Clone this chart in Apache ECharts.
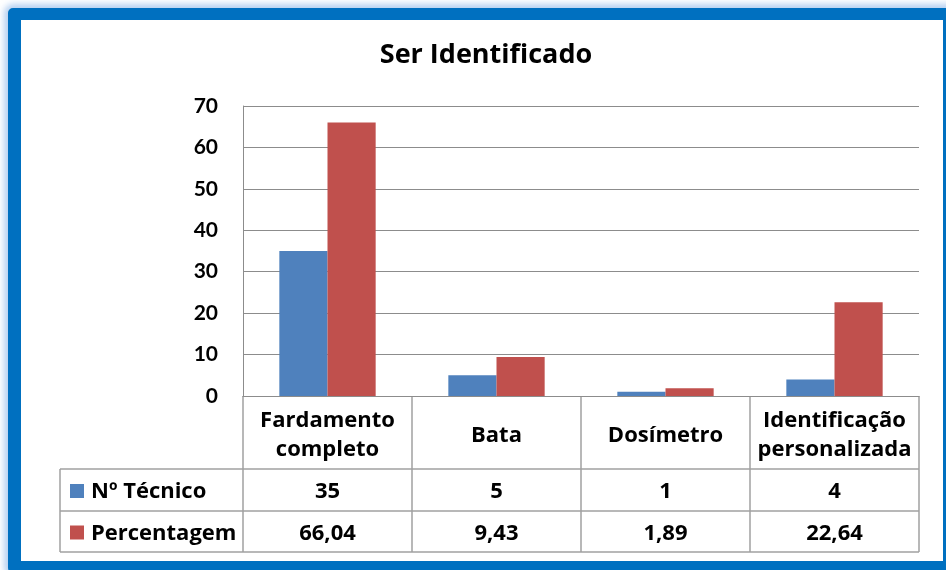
<!DOCTYPE html>
<html>
<head>
<meta charset="utf-8">
<script src="https://cdn.jsdelivr.net/npm/echarts@6/dist/echarts.min.js"></script>
<style>
    html, body { margin: 0; padding: 0; width: 946px; height: 570px; overflow: hidden; background: #fff; }
    .frame {
        position: absolute; left: 8px; top: 8px;
        width: 922px; height: 541px;
        border-style: solid; border-color: #0070C0;
        border-width: 12px 12px 12px 13px;
        border-radius: 5px;
        background: #fff;
        box-shadow: 0 0 6px 4px rgba(120, 170, 230, 0.55);
    }
    #main { position: absolute; left: 0; top: 0; width: 946px; height: 570px; }
</style>
</head>
<body>
<div class="frame"></div>
<div id="main"></div>
<script>
    // dados do gráfico
    const categories = ['Fardamento\ncompleto', 'Bata', 'Dosímetro', 'Identificação\npersonalizada'];
    const seriesNames = ['Nº Técnico', 'Percentagem'];
    const tecnico = [35, 5, 1, 4];
    const percentagem = [66.04, 9.43, 1.89, 22.64];
    const yTicks = [0, 10, 20, 30, 40, 50, 60, 70];

    const colors = ['#4F81BD', '#C0504D'];
    const font = '"Open Sans"';
    const lineColor = '#a0a0a0';

    let myChart = echarts.init(document.getElementById('main'));

    let option = {
        animation: false,
        title: {
            text: 'Ser Identificado',
            left: 481,
            textAlign: 'center',
            top: 37,
            textStyle: { fontFamily: font, fontSize: 27, fontWeight: 'bold', color: '#000' }
        },
        grid: { left: 243, right: 27, top: 106, bottom: 174 },
        xAxis: {
            type: 'category',
            data: categories,
            axisLine: { lineStyle: { color: '#8c8c8c', width: 1 } },
            axisTick: { show: false },
            axisLabel: { show: false }
        },
        yAxis: {
            type: 'value',
            min: yTicks[0],
            max: yTicks[yTicks.length - 1],
            interval: yTicks[1] - yTicks[0],
            axisLine: { show: true, lineStyle: { color: '#8c8c8c', width: 1 } },
            axisTick: { show: false },
            axisLabel: { margin: 25, fontFamily: 'Lato', fontSize: 21, fontWeight: 'bold', color: '#000' },
            splitLine: { lineStyle: { color: '#8c8c8c', width: 1 } }
        },
        series: [
            {
                name: seriesNames[0],
                type: 'bar',
                data: tecnico,
                barGap: '0%',
                barCategoryGap: '43%',
                itemStyle: { color: colors[0] }
            },
            {
                name: seriesNames[1],
                type: 'bar',
                data: percentagem,
                barGap: '0%',
                barCategoryGap: '43%',
                itemStyle: { color: colors[1] }
            }
        ]
    };
    myChart.setOption(option);

    // tabela de dados debaixo do gráfico
    function buildTable() {
        const c0 = myChart.convertToPixel({ xAxisIndex: 0 }, 0);
        const c1 = myChart.convertToPixel({ xAxisIndex: 0 }, 1);
        const cw = c1 - c0;
        const left = c0 - cw / 2;
        const right = left + cw * categories.length;
        const top = myChart.convertToPixel({ yAxisIndex: 0 }, 0);
        const headBottom = top + 73;
        const row1Bottom = headBottom + 42;
        const row2Bottom = row1Bottom + 41;
        const labelLeft = 60;

        const els = [];
        const line = (x1, y1, x2, y2) => els.push({
            type: 'line', silent: true,
            shape: { x1: x1, y1: y1, x2: x2, y2: y2 },
            style: { stroke: lineColor, lineWidth: 1.5 }
        });
        const text = (x, y, str, align) => els.push({
            type: 'text', silent: true, x: x, y: y + 2,
            style: {
                text: str, align: align || 'center', verticalAlign: 'middle',
                font: 'bold 22px ' + font, fill: '#000', lineHeight: 29
            }
        });

        for (let i = 0; i <= categories.length; i++) {
            line(left + i * cw, top, left + i * cw, row2Bottom);
        }
        line(labelLeft, headBottom, right, headBottom);
        line(labelLeft, row1Bottom, right, row1Bottom);
        line(labelLeft, row2Bottom, right, row2Bottom);
        line(labelLeft, headBottom, labelLeft, row2Bottom);

        const rows = [
            { name: seriesNames[0], vals: tecnico.map(v => String(v)), y: (headBottom + row1Bottom) / 2, color: colors[0] },
            { name: seriesNames[1], vals: percentagem.map(v => v.toFixed(2).replace('.', ',')), y: (row1Bottom + row2Bottom) / 2, color: colors[1] }
        ];

        categories.forEach((c, i) => {
            const cx = left + (i + 0.5) * cw;
            text(cx, (top + headBottom) / 2 + 1, c);
            rows.forEach(r => text(cx, r.y, r.vals[i]));
        });
        rows.forEach(r => {
            els.push({
                type: 'rect', silent: true,
                shape: { x: 70, y: r.y - 6, width: 14, height: 14 },
                style: { fill: r.color }
            });
            text(91, r.y, r.name, 'left');
        });

        myChart.setOption({ graphic: els });
    }
    buildTable();
</script>
</body>
</html>
